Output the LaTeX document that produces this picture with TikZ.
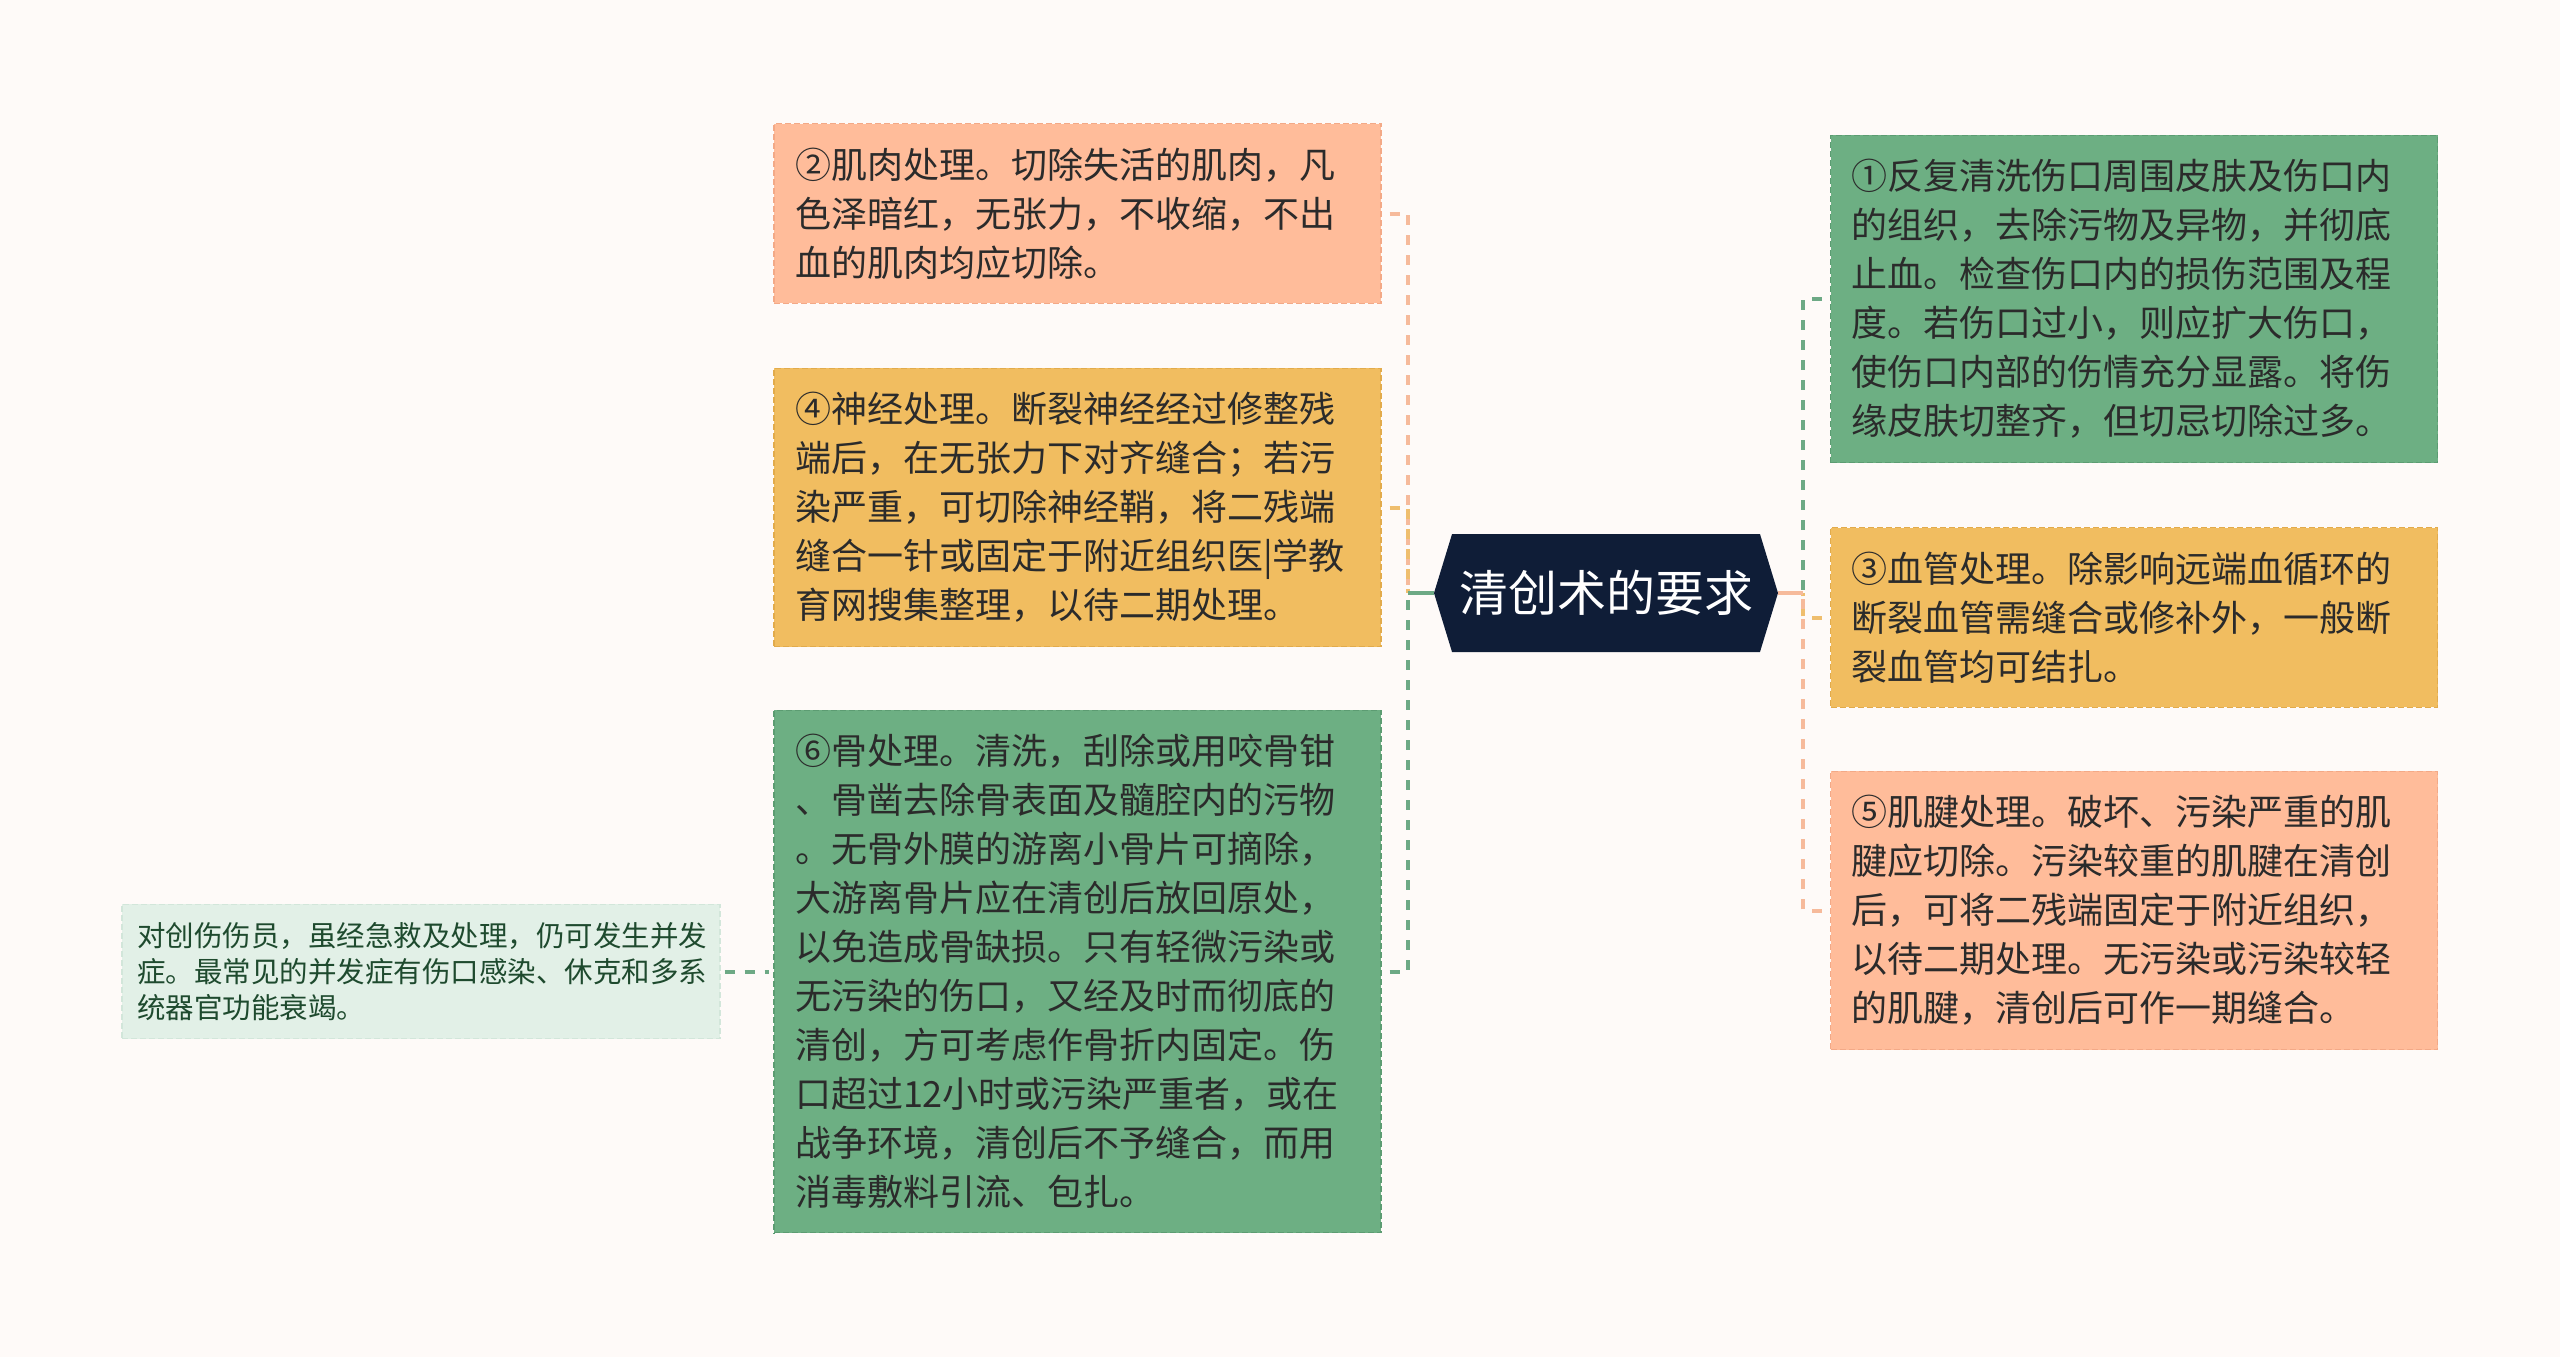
\documentclass[tikz,border=0pt]{standalone}
\usepackage{fontspec}
\newfontfamily\cjk{Noto Sans CJK SC}
\usetikzlibrary{shapes.symbols}

\definecolor{bgpaper}{HTML}{FEFAF8}
\definecolor{navy}{HTML}{0F1D37}
\definecolor{salmonfill}{HTML}{FFBC9A}
\definecolor{salmonedge}{HTML}{F3A987}
\definecolor{salmonline}{HTML}{F6BA9B}
\definecolor{orangefill}{HTML}{F1BD60}
\definecolor{orangeedge}{HTML}{E2AB4C}
\definecolor{orangeline}{HTML}{EFBE6E}
\definecolor{greenfill}{HTML}{6DAF83}
\definecolor{greenedge}{HTML}{5C9C72}
\definecolor{greenline}{HTML}{6DA985}
\definecolor{mintfill}{HTML}{E2F0E7}
\definecolor{mintedge}{HTML}{D2E6DA}
\definecolor{textdark}{HTML}{2B2B2B}
\definecolor{textgreen}{HTML}{1E4A2E}

\tikzset{
  card/.style={fill=#1fill, draw=#1edge, line width=0.6pt, dash pattern=on 3pt off 1.5pt,
    text=textdark, text width=282.5pt, align=left, inner xsep=10.5pt, inner ysep=12pt,
    font=\cjk\fontsize{18}{24.5}\selectfont},
  link/.style={draw=#1, line width=2pt, dash pattern=on 5pt off 5pt},
  stub/.style={draw=#1, line width=2pt}
}

\begin{document}
\begin{tikzpicture}
    [x=0.5pt,y=-0.5pt,
     topic/.style={shape=signal, signal to=west and east, signal pointer angle=146,
       fill=navy, text=white, font=\cjk\fontsize{24.5}{28}\selectfont,
       minimum width=172pt, minimum height=59pt, inner sep=0pt}]
  \fill[bgpaper] (0,0) rectangle (2560,1357);
  \useasboundingbox (0,0) rectangle (2560,1357);

  \node[topic] (root) at (1606,593) {清创术的要求};

  % left branches
  \node[card=salmon] (b2) at (1077.5,213.5) {②肌肉处理。切除失活的肌肉，凡\\色泽暗红，无张力，不收缩，不出\\血的肌肉均应切除。};
  \node[card=orange] (b4) at (1077.5,507.5) {④神经处理。断裂神经经过修整残\\端后，在无张力下对齐缝合；若污\\染严重，可切除神经鞘，将二残端\\缝合一针或固定于附近组织医|学教\\育网搜集整理，以待二期处理。};
  \node[card=green] (b6) at (1077.5,971.5) {⑥骨处理。清洗，刮除或用咬骨钳\\、骨凿去除骨表面及髓腔内的污物\\。无骨外膜的游离小骨片可摘除，\\大游离骨片应在清创后放回原处，\\以免造成骨缺损。只有轻微污染或\\无污染的伤口，又经及时而彻底的\\清创，方可考虑作骨折内固定。伤\\口超过12小时或污染严重者，或在\\战争环境，清创后不予缝合，而用\\消毒敷料引流、包扎。};
  \node[card=mint, text=textgreen, text width=284pt, inner xsep=7.5pt, inner ysep=9pt,
        font=\cjk\fontsize{14.25}{18}\selectfont] (note) at (421,971.5)
    {对创伤伤员，虽经急救及处理，仍可发生并发\\症。最常见的并发症有伤口感染、休克和多系\\统器官功能衰竭。};

  % right branches
  \node[card=green] (b1) at (2134,299) {①反复清洗伤口周围皮肤及伤口内\\的组织，去除污物及异物，并彻底\\止血。检查伤口内的损伤范围及程\\度。若伤口过小，则应扩大伤口，\\使伤口内部的伤情充分显露。将伤\\缘皮肤切整齐，但切忌切除过多。};
  \node[card=orange] (b3) at (2134,617.5) {③血管处理。除影响远端血循环的\\断裂血管需缝合或修补外，一般断\\裂血管均可结扎。};
  \node[card=salmon] (b5) at (2134,910.5) {⑤肌腱处理。破坏、污染严重的肌\\腱应切除。污染较重的肌腱在清创\\后，可将二残端固定于附近组织，\\以待二期处理。无污染或污染较轻\\的肌腱，清创后可作一期缝合。};

  \coordinate (lj) at (1408,593);
  \coordinate (rj) at (1803,593);

  \foreach \to/\col in {b2/salmonline, b4/orangeline, b6/greenline}
    \draw[link=\col] ([xshift=4pt]\to.east) -| (lj);
  \foreach \to/\col in {b1/greenline, b3/orangeline, b5/salmonline}
    \draw[link=\col] ([xshift=-4pt]\to.west) -| (rj);
  \draw[stub=greenline] (root.west) -- (lj);
  \draw[stub=salmonline] (root.east) -- (rj);
  \draw[link=greenline] ([xshift=2pt]note.east) -- ([xshift=-2pt]b6.west);
\end{tikzpicture}
\end{document}
